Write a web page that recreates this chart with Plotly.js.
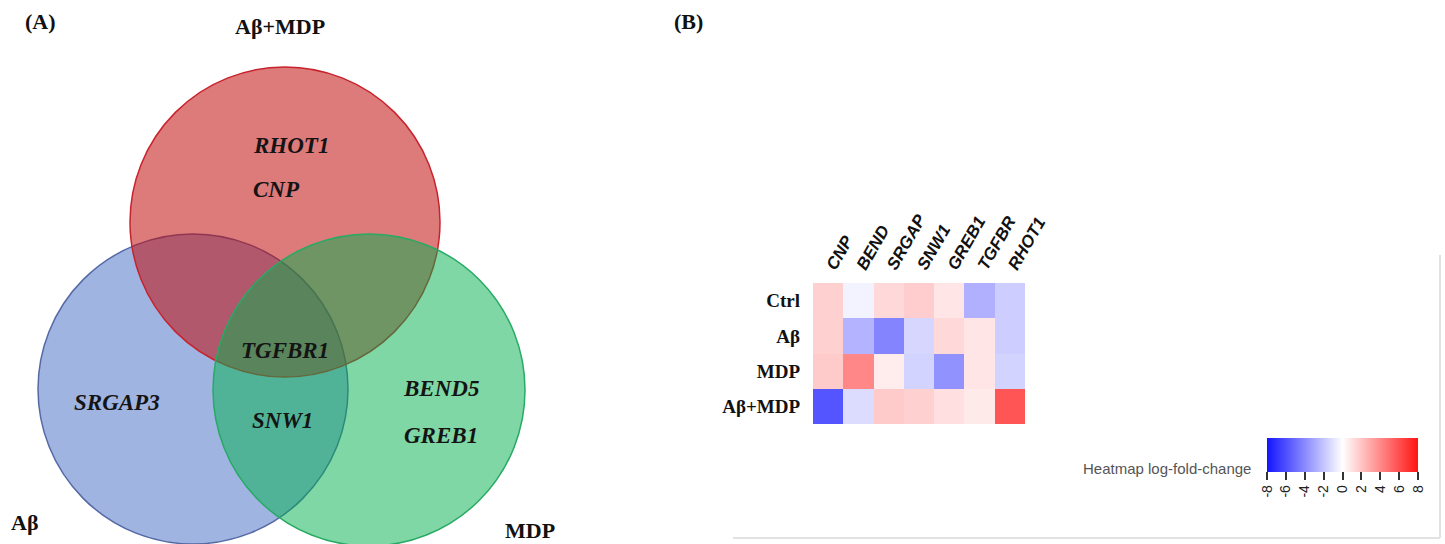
<!DOCTYPE html>
<html>
<head>
<meta charset="utf-8">
<script src="https://cdn.plot.ly/plotly-3.0.1.min.js"></script>
<style>html,body{margin:0;padding:0;background:#fff;}#chart{width:1445px;height:544px;}</style>
</head>
<body>
<div id="chart"></div>
<script>
// ---------- DATA ----------
// Venn (panel A)
const vennSets = ['Aβ', 'Aβ+MDP', 'MDP'];
const onlyAbMdp = ['RHOT1', 'CNP'];
const onlyAb = ['SRGAP3'];
const onlyMdp = ['BEND5', 'GREB1'];
const abAndMdp = ['SNW1'];
const allThree = ['TGFBR1'];

// Heatmap (panel B)
const heatGenes = ['CNP', 'BEND', 'SRGAP', 'SNW1', 'GREB1', 'TGFBR', 'RHOT1'];
const heatGroups = ['Ctrl', 'Aβ', 'MDP', 'Aβ+MDP'];
const ctrlFC  = [1.6, -0.4, 1.3, 1.7, 0.9, -2.7, -1.7];
const abFC    = [1.6, -2.6, -4.2, -1.4, 1.3, 0.9, -1.7];
const mdpFC   = [1.8, 4.1, 0.6, -1.5, -3.7, 0.9, -1.5];
const abMdpFC = [-5.8, -1.2, 1.8, 1.6, 1.1, 0.7, 5.8];
const cbTicks = [-8, -6, -4, -2, 0, 2, 4, 6, 8];

// ---------- LAYOUT HELPERS ----------
const W = 1445, H = 544;
const serif = 'Liberation Serif, Times New Roman, serif';
const sans = 'Liberation Sans, Arial, sans-serif';

// circle geometry (pixel space), order: Aβ, Aβ+MDP, MDP
const circles = [
  {cx: 193, cy: 389, r: 155, fill: 'rgb(160,180,226)', line: 'rgb(85,105,165)'},
  {cx: 285, cy: 222, r: 155, fill: 'rgba(193,13,13,0.55)', line: 'rgb(200,35,45)'},
  {cx: 369, cy: 390, r: 156, fill: 'rgba(0,175,75,0.5)', line: 'rgb(40,170,100)'}
];
const shapes = circles.map(c => ({
  type: 'circle', xref: 'x', yref: 'y',
  x0: c.cx - c.r, x1: c.cx + c.r, y0: c.cy - c.r, y1: c.cy + c.r,
  fillcolor: c.fill, line: {color: c.line, width: 1.5}
}));
// faint panel-B frame (right & bottom edges)
shapes.push({type: 'line', xref: 'x', yref: 'y', x0: 1440, x1: 1440, y0: 255, y1: 538, line: {color: '#e2e2e2', width: 2}});
shapes.push({type: 'line', xref: 'x', yref: 'y', x0: 733, x1: 1440, y0: 538, y1: 538, line: {color: '#e2e2e2', width: 2}});

const annotations = [];
function txt(text, x, y, opts) {
  annotations.push(Object.assign({
    text: text, x: x, y: y, xref: 'x', yref: 'y', showarrow: false,
    xanchor: 'center', yanchor: 'middle',
    font: {family: serif, size: 19, color: '#111', weight: 'bold'}
  }, opts || {}));
}
const labFont = {family: serif, size: 22, color: '#111', weight: 'bold'};
// panel letters
txt('(A)', 40, 21, {font: labFont});
txt('(B)', 688, 21, {font: labFont});
// set names
txt(vennSets[1], 280, 26, {font: labFont});
txt(vennSets[0], 24, 522, {font: labFont});
txt(vennSets[2], 530, 530, {font: labFont});
// genes
const geneFont = {family: serif, size: 23, color: '#141414', weight: 'bold', style: 'italic'};
txt(onlyAbMdp[0], 251, 145, {xanchor: 'left', font: geneFont});
txt(onlyAbMdp[1], 251, 189, {xanchor: 'left', font: geneFont});
txt(allThree[0], 285, 350, {font: geneFont});
txt(onlyAb[0], 117, 402, {font: geneFont});
txt(abAndMdp[0], 282, 420, {font: geneFont});
txt(onlyMdp[0], 441, 388, {font: geneFont});
txt(onlyMdp[1], 441, 435, {font: geneFont});
// colorbar title
txt('Heatmap log-fold-change', 1253, 468, {xanchor: 'right', font: {family: sans, size: 15, color: '#555'}});

const heatTrace = {
  type: 'heatmap', xaxis: 'x2', yaxis: 'y2',
  x: heatGenes, y: heatGroups,
  z: [ctrlFC, abFC, mdpFC, abMdpFC],
  zmin: -8, zmax: 8,
  colorscale: [[0, 'rgb(20,20,255)'], [0.5, 'rgb(255,255,255)'], [1, 'rgb(255,20,20)']],
  hoverongaps: false,
  colorbar: {
    orientation: 'h', x: 1342.5 / W, xanchor: 'center', y: 1 - 438 / H, yanchor: 'top',
    len: 151, lenmode: 'pixels', thickness: 34, outlinewidth: 0, xpad: 0, ypad: 0,
    ticks: 'outside', ticklen: 8, tickwidth: 2, tickcolor: '#333',
    tickvals: cbTicks, ticktext: cbTicks.map(String), tickangle: -90,
    tickfont: {family: sans, size: 14, color: '#222'}
  }
};

const layout = {
  width: W, height: H, margin: {l: 0, r: 0, t: 0, b: 0},
  paper_bgcolor: '#fff', plot_bgcolor: 'rgba(0,0,0,0)',
  showlegend: false,
  xaxis: {domain: [0, 1], range: [0, W], visible: false, fixedrange: true},
  yaxis: {domain: [0, 1], range: [H, 0], visible: false, fixedrange: true},
  xaxis2: {
    anchor: 'y2', domain: [813 / W, 1025 / W], side: 'top', tickangle: -60,
    showgrid: false, zeroline: false, showline: false, ticks: '', ticklabelstandoff: 3,
    tickfont: {family: sans, size: 17, color: '#111', weight: 'bold', style: 'italic'}
  },
  yaxis2: {
    anchor: 'x2', domain: [1 - 424 / H, 1 - 283 / H], autorange: 'reversed',
    showgrid: false, zeroline: false, showline: false, ticks: '', ticklabelstandoff: 12,
    tickfont: {family: serif, size: 19, color: '#111', weight: 'bold'}
  },
  shapes: shapes,
  annotations: annotations
};

Plotly.newPlot('chart', [heatTrace], layout, {staticPlot: true, displayModeBar: false});
</script>
</body>
</html>
